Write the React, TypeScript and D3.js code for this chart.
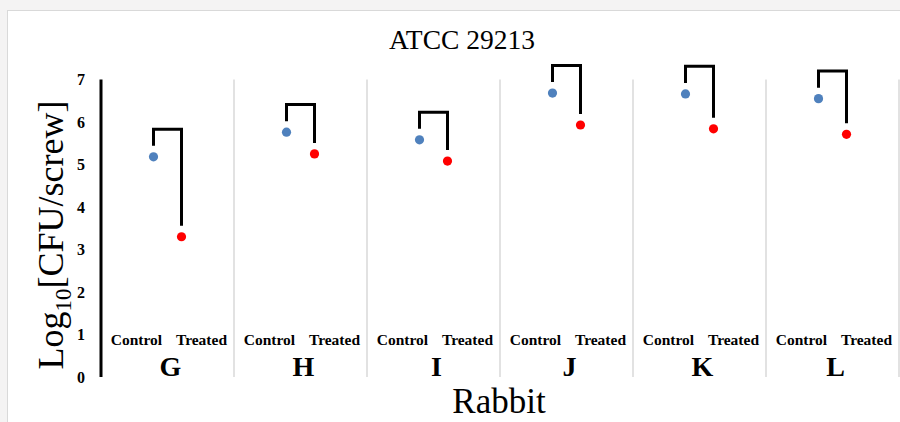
import React from "react";
import * as d3 from "d3";

// rabbits on the x axis
const rabbits = ["G", "H", "I", "J", "K", "L"];
// log10 CFU/screw
const controlValues = [5.18, 5.76, 5.58, 6.68, 6.66, 6.55];
const treatedValues = [3.3, 5.25, 5.08, 5.93, 5.84, 5.71];
const yTicks = [0, 1, 2, 3, 4, 5, 6, 7];
const groupLabels = ["Control", "Treated"];

const W = 900;
const H = 422;
const margin = { left: 101, right: 1, top: 79.5, bottom: 45 };

export default function App() {
  const x = d3.scaleBand<string>().domain(rabbits).range([margin.left, W - margin.right]);
  const y = d3.scaleLinear().domain([0, 7]).range([H - margin.bottom, margin.top]);
  const inner = d3
    .scalePoint<string>()
    .domain(groupLabels)
    .range([-14, 14]);

  const serif = "'Liberation Serif', 'Times New Roman', serif";
  const line = d3.line<[number, number]>();

  return (
    <div style={{ position: "fixed", left: 0, top: 0 }}>
      <svg width={W} height={H} style={{ display: "block" }}>
        <rect x={0} y={0} width={W} height={H} fill="#f4f3f3" />
        <rect x={7.5} y={10.5} width={W} height={H} fill="#fff" stroke="#d9d9d9" />

        <text x={462} y={49} textAnchor="middle" fontFamily={serif} fontSize={27.5}>
          ATCC 29213
        </text>

        {/* separators between rabbits */}
        {rabbits.map((r) => (
          <line
            key={"sep" + r}
            x1={x(r)! + x.bandwidth()}
            x2={x(r)! + x.bandwidth()}
            y1={y(7)}
            y2={y(0)}
            stroke="#d9d9d9"
            strokeWidth={1.5}
          />
        ))}

        {/* y axis */}
        <line x1={margin.left} x2={margin.left} y1={y(7)} y2={y(0)} stroke="#000" strokeWidth={3} />
        {yTicks.map((t) => (
          <text
            key={t}
            x={85}
            y={y(t)}
            dy="0.35em"
            textAnchor="end"
            fontFamily={serif}
            fontWeight="bold"
            fontSize={16}
          >
            {t}
          </text>
        ))}

        <text
          transform={`translate(63,235) rotate(-90)`}
          textAnchor="middle"
          fontFamily={serif}
          fontSize={36}
        >
          Log
          <tspan fontSize={23} dy={8}>10</tspan>
          <tspan dy={-8}>[CFU/screw]</tspan>
        </text>

        {rabbits.map((r, i) => {
          const cx = x(r)! + x.bandwidth() / 2;
          const xc = cx + inner("Control")!;
          const xt = cx + inner("Treated")!;
          const yc = y(controlValues[i]);
          const yt = y(treatedValues[i]);
          const top = y(controlValues[i] + 0.65);
          const path = line([
            [xc, yc - 11],
            [xc, top],
            [xt, top],
            [xt, yt - 11],
          ]);
          return (
            <g key={r}>
              <path d={path!} fill="none" stroke="#000" strokeWidth={3} strokeLinejoin="miter" />
              <circle cx={xc} cy={yc} r={4.6} fill="#4f81bd" />
              <circle cx={xt} cy={yt} r={4.6} fill="#ff0000" />
              <text
                x={cx - 31}
                y={345}
                textAnchor="middle"
                fontFamily={serif}
                fontWeight="bold"
                fontSize={15.5}
              >
                {groupLabels[0]}
              </text>
              <text
                x={cx + 34}
                y={345}
                textAnchor="middle"
                fontFamily={serif}
                fontWeight="bold"
                fontSize={15.5}
              >
                {groupLabels[1]}
              </text>
              <text
                x={cx + 3}
                y={376}
                textAnchor="middle"
                fontFamily={serif}
                fontWeight="bold"
                fontSize={28}
              >
                {r}
              </text>
            </g>
          );
        })}

        <text x={499} y={413} textAnchor="middle" fontFamily={serif} fontSize={35}>
          Rabbit
        </text>
      </svg>
    </div>
  );
}
